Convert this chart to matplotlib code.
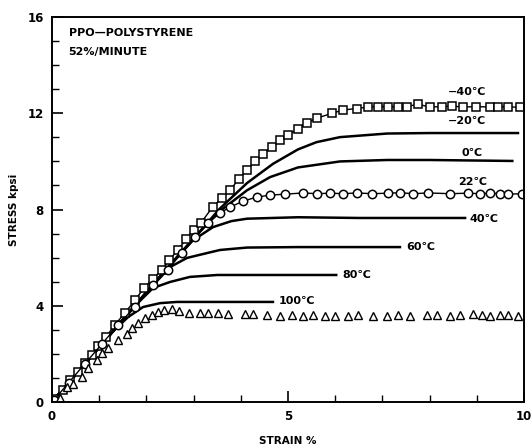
import matplotlib
matplotlib.use("Agg")
import matplotlib.pyplot as plt
from matplotlib.ticker import MultipleLocator

plt.rcParams['font.family'] = ['Liberation Sans Narrow', 'DejaVu Sans']
plt.rcParams['font.weight'] = 'bold'

# -40C data (squares)
sq_x = [0.06, 0.23, 0.38, 0.55, 0.70, 0.85, 0.98, 1.14, 1.33, 1.55, 1.76, 1.94, 2.14, 2.33,
        2.48, 2.67, 2.84, 3.00, 3.16, 3.40, 3.60, 3.77, 3.96, 4.13, 4.30, 4.47, 4.66, 4.83,
        5.00, 5.21, 5.40, 5.61, 5.93, 6.17, 6.46, 6.69, 6.90, 7.12, 7.33, 7.52, 7.75, 8.00,
        8.26, 8.47, 8.71, 8.98, 9.28, 9.45, 9.66, 9.92]
sq_y = [0.12, 0.50, 0.91, 1.25, 1.62, 1.95, 2.33, 2.70, 3.20, 3.72, 4.24, 4.72, 5.13, 5.50,
        5.90, 6.32, 6.78, 7.15, 7.46, 8.10, 8.48, 8.81, 9.27, 9.64, 10.00, 10.30, 10.60, 10.89,
        11.10, 11.35, 11.60, 11.80, 12.00, 12.14, 12.20, 12.26, 12.28, 12.28, 12.26, 12.28, 12.38, 12.26,
        12.28, 12.30, 12.26, 12.28, 12.26, 12.28, 12.26, 12.26]

# 22C data (circles)
ci_x = [0.05, 0.35, 0.70, 1.05, 1.40, 1.75, 2.14, 2.45, 2.75, 3.03, 3.31, 3.56, 3.77, 4.05,
        4.34, 4.62, 4.94, 5.32, 5.61, 5.89, 6.17, 6.46, 6.78, 7.12, 7.37, 7.65, 7.97, 8.43,
        8.81, 9.07, 9.28, 9.49, 9.66, 9.96]
ci_y = [0.10, 0.80, 1.60, 2.40, 3.20, 3.95, 4.86, 5.50, 6.20, 6.85, 7.44, 7.86, 8.10, 8.35,
        8.52, 8.60, 8.64, 8.69, 8.66, 8.68, 8.66, 8.69, 8.66, 8.68, 8.70, 8.66, 8.69, 8.66,
        8.68, 8.66, 8.68, 8.66, 8.64, 8.66]

# 100C data (triangles)
tr_x = [0.17, 0.31, 0.45, 0.63, 0.77, 0.95, 1.06, 1.19, 1.40, 1.58, 1.69, 1.83, 1.97, 2.11,
        2.24, 2.37, 2.54, 2.69, 2.90, 3.14, 3.31, 3.52, 3.73, 4.09, 4.26, 4.55, 4.83, 5.08,
        5.32, 5.53, 5.78, 6.00, 6.28, 6.49, 6.80, 7.10, 7.33, 7.58, 7.94, 8.16, 8.43, 8.64,
        8.92, 9.11, 9.28, 9.49, 9.66, 9.87]
tr_y = [0.17, 0.63, 0.75, 1.05, 1.41, 1.75, 2.03, 2.24, 2.58, 2.83, 3.07, 3.28, 3.49, 3.62,
        3.74, 3.82, 3.87, 3.80, 3.70, 3.70, 3.68, 3.68, 3.64, 3.66, 3.64, 3.60, 3.58, 3.60,
        3.56, 3.62, 3.58, 3.56, 3.58, 3.62, 3.58, 3.56, 3.62, 3.58, 3.62, 3.60, 3.58, 3.62,
        3.66, 3.60, 3.58, 3.62, 3.60, 3.58]

# smooth curves
m20_x = [0, 0.5, 1.0, 1.5, 2.0, 2.5, 3.03, 3.56, 4.13, 4.68, 5.21, 5.6, 6.1, 7.1, 8.0, 9.87]
m20_y = [0, 1.14, 2.28, 3.42, 4.56, 5.70, 6.86, 8.05, 9.10, 9.90, 10.50, 10.80, 11.01, 11.16, 11.18, 11.18]
c0_x = [0, 0.5, 1.0, 1.5, 2.0, 2.5, 3.0, 3.5, 4.13, 4.62, 5.21, 6.1, 7.1, 8.0, 9.75]
c0_y = [0, 1.14, 2.28, 3.42, 4.56, 5.70, 6.80, 7.85, 8.80, 9.35, 9.75, 10.00, 10.06, 10.06, 10.02]
c40_x = [0, 0.5, 1.0, 1.5, 2.0, 2.5, 2.99, 3.41, 3.8, 4.13, 5.21, 6.5, 8.75]
c40_y = [0, 1.14, 2.28, 3.42, 4.56, 5.70, 6.73, 7.27, 7.52, 7.62, 7.68, 7.65, 7.65]
c60_x = [0, 0.5, 1.0, 1.5, 2.0, 2.5, 2.86, 3.28, 3.56, 4.13, 5.21, 7.37]
c60_y = [0, 1.14, 2.28, 3.42, 4.56, 5.61, 5.99, 6.19, 6.32, 6.42, 6.44, 6.44]
c80_x = [0, 0.5, 1.0, 1.5, 1.86, 2.14, 2.50, 2.92, 3.50, 4.5, 6.02]
c80_y = [0, 1.14, 2.28, 3.42, 4.20, 4.74, 4.99, 5.20, 5.28, 5.28, 5.28]
c100_x = [0, 0.5, 1.0, 1.3, 1.61, 1.93, 2.29, 2.65, 3.2, 4.68]
c100_y = [0, 1.14, 2.28, 2.95, 3.53, 3.95, 4.11, 4.16, 4.16, 4.16]

fig = plt.figure(figsize=(5.31, 4.45), dpi=100)
ax = fig.add_axes([0.098, 0.0966, 0.889, 0.865])

lw = 1.8
for cx, cy in [(m20_x, m20_y), (c0_x, c0_y), (c40_x, c40_y), (c60_x, c60_y),
               (c80_x, c80_y), (c100_x, c100_y)]:
    ax.plot(cx, cy, color='black', lw=lw)

ax.plot(sq_x, sq_y, color='black', lw=1.0, marker='s', markersize=6.2,
        markerfacecolor='white', markeredgecolor='black', markeredgewidth=1.1)
ax.plot(ci_x, ci_y, color='black', lw=1.0, marker='o', markersize=6.0,
        markerfacecolor='white', markeredgecolor='black', markeredgewidth=1.1)
ax.plot(tr_x, tr_y, linestyle='none', marker='^', markersize=5.6,
        markerfacecolor='white', markeredgecolor='black', markeredgewidth=1.0)

# temperature labels
lab = dict(fontsize=8, fontweight='bold', va='center')
ax.text(8.8, 12.9, '−40℃', ha='center', **lab)
ax.text(8.8, 11.7, '−20℃', ha='center', **lab)
ax.text(8.9, 10.35, '0℃', ha='center', **lab)
ax.text(8.9, 9.15, '22℃', ha='center', **lab)
ax.text(8.85, 7.6, '40℃', ha='left', **lab)
ax.text(7.5, 6.45, '60℃', ha='left', **lab)
ax.text(6.15, 5.3, '80℃', ha='left', **lab)
ax.text(4.8, 4.2, '100℃', ha='left', **lab)

ax.text(0.35, 15.35, 'PPO—POLYSTYRENE', fontsize=8, fontweight='bold', va='center')
ax.text(0.35, 14.55, '52%/MINUTE', fontsize=8, fontweight='bold', va='center')

ax.set_xlim(0, 10)
ax.set_ylim(0, 16)
ax.xaxis.set_major_locator(MultipleLocator(5))
ax.xaxis.set_minor_locator(MultipleLocator(1))
ax.yaxis.set_major_locator(MultipleLocator(4))
ax.yaxis.set_minor_locator(MultipleLocator(1))
ax.tick_params(which='major', direction='in', length=8, width=1.2, labelsize=8.5, pad=6)
ax.tick_params(which='minor', direction='in', length=5, width=1.0)
for lbl in ax.get_xticklabels() + ax.get_yticklabels():
    lbl.set_fontweight('bold')
for sp in ax.spines.values():
    sp.set_linewidth(1.4)

ax.set_xlabel('STRAIN %', fontsize=7.5, fontweight='bold', labelpad=9)
ax.set_ylabel('STRESS kpsi', fontsize=7.5, fontweight='bold', labelpad=6)

fig.savefig('out.png', dpi=100)
